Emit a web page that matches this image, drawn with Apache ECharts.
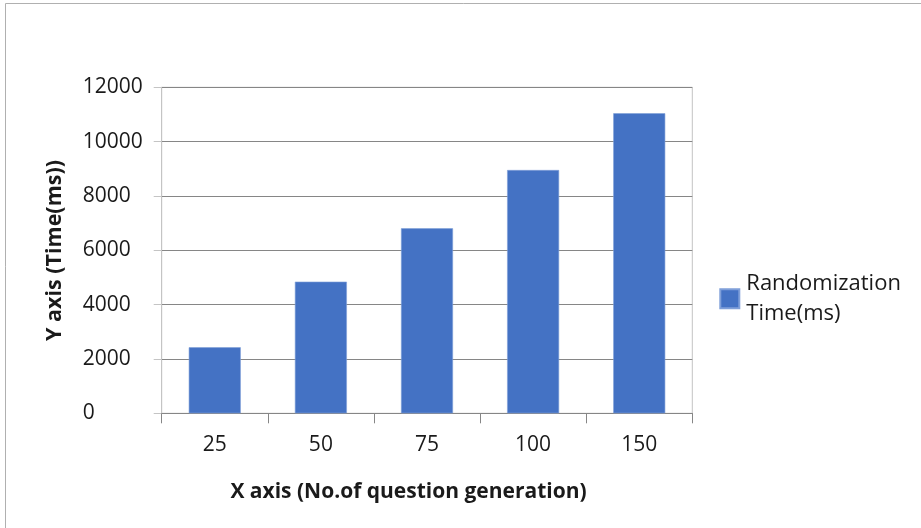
<!DOCTYPE html>
<html>
<head>
<meta charset="utf-8">
<script src="https://cdn.jsdelivr.net/npm/echarts@6/dist/echarts.min.js"></script>
<style>
  html, body { margin: 0; padding: 0; background: #fff; }
  #chart { width: 921px; height: 528px; }
</style>
</head>
<body>
<div id="chart"></div>
<script>
// Question counts and the time taken to randomize them
const categories = ['25', '50', '75', '100', '150'];
const randomizationTime = [2430, 4845, 6810, 8955, 11045];
const seriesName = 'Randomization\nTime(ms)';
const xTitle = 'X axis (No.of question generation)';
const yTitle = 'Y axis (Time(ms))';

const FONT = '"Open Sans", sans-serif';
const INK = '#1a1a1a';
const chart = echarts.init(document.getElementById('chart'), null, { renderer: 'canvas' });

chart.setOption({
  backgroundColor: '#ffffff',
  animation: false,
  textStyle: { fontFamily: FONT },
  grid: {
    left: 161.7, top: 87.3, right: 228.7, bottom: 114.7,
    show: true, borderColor: '#c4c4c4', borderWidth: 1, backgroundColor: 'transparent'
  },
  legend: {
    show: true,
    left: 714.3, top: 264.3,
    orient: 'vertical',
    itemWidth: 19, itemHeight: 19,
    icon: 'rect',
    textStyle: { fontFamily: FONT, fontSize: 22, color: INK, lineHeight: 29.5, padding: [0, 0, 0, 2] },
    data: [seriesName]
  },
  xAxis: {
    type: 'category',
    data: categories,
    axisLine: { show: true, lineStyle: { color: '#868686', width: 1 } },
    axisTick: { show: true, inside: false, length: 10, lineStyle: { color: '#868686' } },
    axisLabel: { fontFamily: FONT, fontSize: 21, color: INK, margin: 21 },
    splitLine: { show: false }
  },
  yAxis: {
    type: 'value',
    min: 0, max: 12000, interval: 2000,
    axisLine: { show: true, lineStyle: { color: '#c4c4c4', width: 1 } },
    axisTick: { show: true, length: 8, lineStyle: { color: '#c4c4c4' } },
    axisLabel: { fontFamily: FONT, fontSize: 21, color: INK, align: 'left', margin: 79,
                 formatter: v => String(v) },
    splitLine: { show: true, lineStyle: { color: '#868686', width: 1 } }
  },
  series: [{
    name: seriesName,
    type: 'bar',
    data: randomizationTime,
    barCategoryGap: '51%',
    itemStyle: { color: '#4472c4', borderColor: '#7f9fd9', borderWidth: 0.6 }
  }],
  graphic: [
    {
      type: 'rect', silent: true, z: -1,
      shape: { x: 5.5, y: 3.5, width: 930, height: 540 },
      style: { fill: 'none', stroke: '#b0b0b0', lineWidth: 1 }
    },
    {
      type: 'text', x: 408.5, y: 492,
      style: { text: xTitle, fontFamily: FONT, fontSize: 21, fontWeight: 'bold', fill: INK,
               textAlign: 'center', textVerticalAlign: 'middle' }
    },
    {
      type: 'text', x: 55, y: 250.5, rotation: Math.PI / 2,
      style: { text: yTitle, fontFamily: FONT, fontSize: 21.5, fontWeight: 'bold', fill: INK,
               textAlign: 'center', textVerticalAlign: 'middle' }
    }
  ]
});
</script>
</body>
</html>
